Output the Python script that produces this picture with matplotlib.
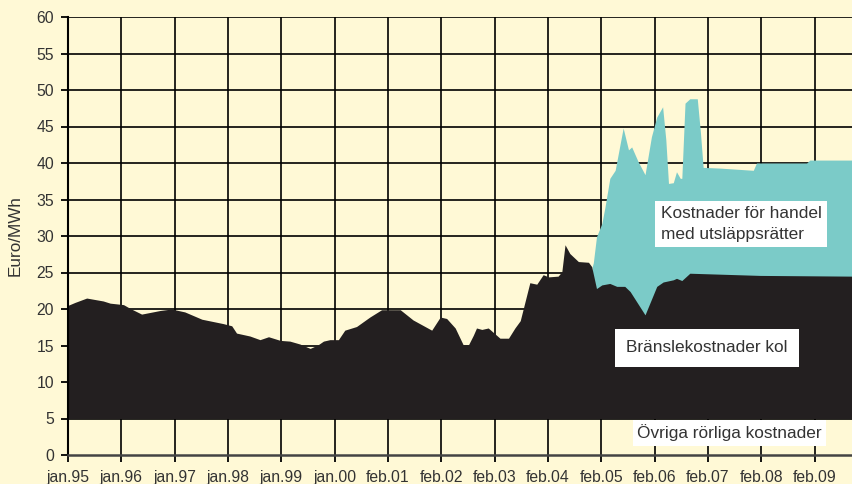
import matplotlib
matplotlib.use("Agg")
import matplotlib.pyplot as plt

plt.rcParams['font.family'] = ['Liberation Sans', 'DejaVu Sans']

# Tick labels (one per year, equally spaced)
tick_labels = ["jan.95", "jan.96", "jan.97", "jan.98", "jan.99", "jan.00",
               "feb.01", "feb.02", "feb.03", "feb.04", "feb.05", "feb.06",
               "feb.07", "feb.08", "feb.09"]

# Other variable costs (constant base), Euro/MWh
other_cost = 5.0

# Fuel cost coal: top of the dark area (incl. other costs), position in years since jan.95
fuel_x = [0.00, 0.13, 0.35, 0.66, 0.79, 1.04, 1.16, 1.38, 1.73, 1.94, 2.19, 2.51,
          2.91, 3.07, 3.16, 3.41, 3.60, 3.76, 3.98, 4.16, 4.35, 4.54, 4.69, 4.79,
          4.91, 5.07, 5.19, 5.41, 5.66, 5.88, 6.23, 6.47, 6.82, 6.98, 7.10, 7.26,
          7.41, 7.51, 7.60, 7.66, 7.76, 7.88, 8.10, 8.26, 8.38, 8.48, 8.66, 8.79,
          8.91, 9.01, 9.19, 9.26, 9.32, 9.41, 9.57, 9.76, 9.82, 9.91, 10.01, 10.16,
          10.29, 10.44, 10.54, 10.82, 11.04, 11.16, 11.35, 11.41, 11.51, 11.66,
          12.98, 14.72]
fuel_top = [20.5, 20.9, 21.5, 21.1, 20.8, 20.6, 20.1, 19.3, 19.8, 20.0, 19.6, 18.6,
            18.0, 17.7, 16.7, 16.3, 15.8, 16.2, 15.7, 15.6, 15.2, 14.6, 15.1, 15.6,
            15.8, 15.8, 17.1, 17.6, 18.9, 19.9, 19.9, 18.5, 17.1, 18.9, 18.7, 17.4,
            15.1, 15.1, 16.4, 17.4, 17.2, 17.4, 16.0, 16.0, 17.4, 18.4, 23.6, 23.4,
            24.7, 24.4, 24.5, 25.1, 28.8, 27.6, 26.5, 26.4, 25.8, 22.8, 23.3, 23.5,
            23.1, 23.1, 22.4, 19.2, 23.1, 23.7, 24.0, 24.2, 23.9, 24.9,
            24.6, 24.5]

# Emission allowance trading cost: top of the teal area (total cost)
emis_x = [9.83, 9.85, 9.91, 10.01, 10.07, 10.16, 10.26, 10.41, 10.51, 10.57, 10.69,
          10.82, 10.94, 11.04, 11.15, 11.21, 11.26, 11.35, 11.41, 11.48, 11.51,
          11.57, 11.66, 11.80, 11.86, 11.91, 12.23, 12.85, 12.91, 13.85, 13.91, 14.72]
emis_top = [25.8, 26.3, 29.9, 31.7, 34.0, 37.9, 39.0, 44.8, 41.8, 42.2, 40.2,
            38.4, 43.6, 46.3, 47.7, 43.2, 37.2, 37.3, 38.8, 37.9, 37.9,
            48.2, 48.8, 48.8, 44.1, 39.4, 39.3, 39.0, 40.0, 40.0, 40.4, 40.4]

bg = "#FFF9D6"
teal = "#7BCBC8"
dark = "#231F20"
txt = "#333333"

W, H = 853, 484
fig = plt.figure(figsize=(W / 100, H / 100), dpi=100, facecolor=bg)
ax = fig.add_axes([68 / W, 1 - 455 / H, 1 - 68 / W, (455 - 17) / H])
ax.set_facecolor(bg)

ax.fill_between(emis_x, other_cost, emis_top, color=teal, lw=0, zorder=2)
ax.fill_between(fuel_x, other_cost, fuel_top, color=dark, lw=0, zorder=3)

ax.set_xlim(0, 14.72)
ax.set_ylim(0, 60)
ax.set_xticks(range(len(tick_labels)))
ax.set_xticklabels(tick_labels)
ax.set_yticks(range(0, 61, 5))

for t in range(len(tick_labels)):
    ax.axvline(t, color="black", lw=1.2, zorder=1)
for v in range(5, 61, 5):
    ax.axhline(v, color="black", lw=1.2, zorder=1)

for s in ["top", "right"]:
    ax.spines[s].set_visible(False)
ax.spines["left"].set_color("black")
ax.spines["left"].set_linewidth(1.5)
ax.spines["bottom"].set_color("#444444")
ax.spines["bottom"].set_linewidth(1.8)
ax.spines["left"].set_zorder(4)
ax.spines["bottom"].set_zorder(4)

ax.tick_params(axis="both", direction="out", length=5, width=1.3, color="black",
               labelsize=11.3, labelcolor=txt)
ax.tick_params(axis="y", pad=5)
ax.tick_params(axis="x", pad=6)

ax.set_ylabel("Euro/MWh", fontsize=12.3, color=txt, labelpad=10)

fig.text(661 / W, 1 - 224 / H, "Kostnader för handel\nmed utsläppsrätter",
         fontsize=12.4, color=txt, va="center", ha="left", linespacing=1.45,
         bbox=dict(facecolor="white", edgecolor="none", pad=4))
fig.text(626 / W, 1 - 348 / H, "Bränslekostnader kol", fontsize=12.4, color=txt,
         va="center", ha="left", bbox=dict(facecolor="white", edgecolor="none", pad=8))
fig.text(637 / W, 1 - 433 / H, "Övriga rörliga kostnader", fontsize=12.4, color=txt,
         va="center", ha="left", bbox=dict(facecolor="white", edgecolor="none", pad=3))

fig.savefig("out.png", dpi=100, facecolor=bg)
